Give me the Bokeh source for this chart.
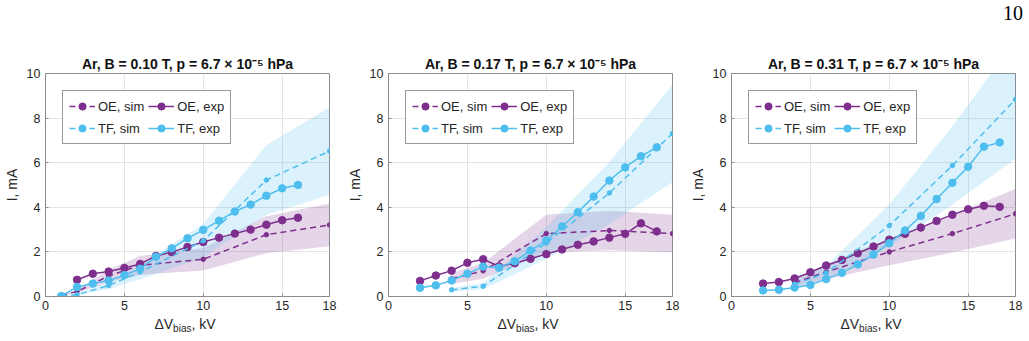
from bokeh.plotting import figure
from bokeh.layouts import row, column
from bokeh.models import Legend, LegendItem, FixedTicker, Range1d, Div
from bokeh.embed import file_html
from bokeh.resources import INLINE

PURPLE = "#7E2F8E"
BLUE = "#4DBEEE"
FONT = "Liberation Sans"
AXIS_GREY = "#8c8c8c"
TEXT_DARK = "#262626"

# ---------------- B = 0.10 T ----------------
b010_oe_exp_v = [2, 3, 4, 5, 6, 7, 8, 9, 10, 11, 12, 13, 14, 15, 16]
b010_oe_exp_i = [0.75, 1.02, 1.12, 1.28, 1.46, 1.82, 1.99, 2.22, 2.44, 2.64, 2.82, 3.00, 3.22, 3.42, 3.53]
b010_tf_exp_v = [1, 2, 3, 4, 5, 6, 7, 8, 9, 10, 11, 12, 13, 14, 15, 16]
b010_tf_exp_i = [0.02, 0.43, 0.58, 0.72, 0.96, 1.24, 1.78, 2.16, 2.61, 2.99, 3.40, 3.81, 4.12, 4.52, 4.85, 5.00]
b010_sim_v = [1, 2, 4, 6, 10, 14, 18]
b010_oe_sim_i = [0.07, 0.22, 0.92, 1.40, 1.67, 2.77, 3.21]
b010_oe_sim_lo = [0.05, 0.15, 0.64, 0.98, 1.17, 1.94, 2.25]
b010_oe_sim_hi = [0.09, 0.29, 1.20, 1.82, 2.17, 3.60, 4.17]
b010_tf_sim_i = [0.02, 0.08, 0.49, 1.10, 2.50, 5.22, 6.52]
b010_tf_sim_lo = [0.01, 0.06, 0.34, 0.77, 1.75, 3.65, 4.56]
b010_tf_sim_hi = [0.03, 0.10, 0.64, 1.43, 3.25, 6.79, 8.48]

# ---------------- B = 0.17 T ----------------
b017_oe_exp_v = [2, 3, 4, 5, 6, 7, 8, 9, 10, 11, 12, 13, 14, 15, 16, 17]
b017_oe_exp_i = [0.70, 0.94, 1.16, 1.51, 1.67, 1.35, 1.49, 1.69, 1.90, 2.11, 2.32, 2.47, 2.64, 2.81, 3.28, 2.92]
b017_tf_exp_v = [2, 3, 4, 5, 6, 7, 8, 9, 10, 11, 12, 13, 14, 15, 16, 17]
b017_tf_exp_i = [0.39, 0.50, 0.72, 1.02, 1.34, 1.29, 1.58, 2.06, 2.51, 3.14, 3.78, 4.48, 5.20, 5.79, 6.29, 6.69]
b017_sim_v = [4, 6, 10, 14, 18]
b017_oe_sim_i = [0.80, 1.15, 2.82, 2.96, 2.82]
b017_oe_sim_lo = [0.56, 0.80, 1.97, 2.07, 1.97]
b017_oe_sim_hi = [1.04, 1.50, 3.67, 3.85, 3.67]
b017_tf_sim_i = [0.30, 0.46, 2.40, 4.64, 7.31]
b017_tf_sim_lo = [0.21, 0.32, 1.68, 3.25, 5.12]
b017_tf_sim_hi = [0.39, 0.60, 3.12, 6.03, 9.50]

# ---------------- B = 0.31 T ----------------
b031_oe_exp_v = [2, 3, 4, 5, 6, 7, 8, 9, 10, 11, 12, 13, 14, 15, 16, 17]
b031_oe_exp_i = [0.58, 0.65, 0.81, 1.09, 1.39, 1.64, 1.94, 2.24, 2.55, 2.81, 3.09, 3.39, 3.67, 3.91, 4.07, 4.02]
b031_tf_exp_v = [2, 3, 4, 5, 6, 7, 8, 9, 10, 11, 12, 13, 14, 15, 16, 17]
b031_tf_exp_i = [0.27, 0.30, 0.40, 0.52, 0.78, 1.06, 1.44, 1.88, 2.39, 2.96, 3.61, 4.37, 5.10, 5.82, 6.72, 6.91]
b031_sim_v = [4, 6, 10, 14, 18]
b031_oe_sim_i = [0.62, 1.10, 2.00, 2.82, 3.71]
b031_oe_sim_lo = [0.43, 0.77, 1.40, 1.97, 2.60]
b031_oe_sim_hi = [0.81, 1.43, 2.60, 3.67, 4.82]
b031_tf_sim_i = [0.55, 1.05, 3.18, 5.87, 8.84]
b031_tf_sim_lo = [0.38, 0.74, 2.23, 4.11, 6.19]
b031_tf_sim_hi = [0.72, 1.37, 4.13, 7.63, 11.49]

titles = [
    "Ar, B = 0.10 T, p = 6.7 \u00d7 10\u207b\u2075 hPa",
    "Ar, B = 0.17 T, p = 6.7 \u00d7 10\u207b\u2075 hPa",
    "Ar, B = 0.31 T, p = 6.7 \u00d7 10\u207b\u2075 hPa",
]
x_ticks = [0, 5, 10, 15, 18]
y_ticks = [0, 2, 4, 6, 8, 10]
page_number = "10"

panels = [
    (titles[0], b010_oe_exp_v, b010_oe_exp_i, b010_tf_exp_v, b010_tf_exp_i, b010_sim_v,
     b010_oe_sim_i, b010_oe_sim_lo, b010_oe_sim_hi, b010_tf_sim_i, b010_tf_sim_lo, b010_tf_sim_hi),
    (titles[1], b017_oe_exp_v, b017_oe_exp_i, b017_tf_exp_v, b017_tf_exp_i, b017_sim_v,
     b017_oe_sim_i, b017_oe_sim_lo, b017_oe_sim_hi, b017_tf_sim_i, b017_tf_sim_lo, b017_tf_sim_hi),
    (titles[2], b031_oe_exp_v, b031_oe_exp_i, b031_tf_exp_v, b031_tf_exp_i, b031_sim_v,
     b031_oe_sim_i, b031_oe_sim_lo, b031_oe_sim_hi, b031_tf_sim_i, b031_tf_sim_lo, b031_tf_sim_hi),
]

PANEL_W = 343
TOP_H = 24      # strip holding the page number
FIG_H = 292     # title + plot frame + tick labels
LABEL_H = 25    # strip holding the x-axis labels


def make_panel(title, oe_v, oe_i, tf_v, tf_i, sim_v,
               oe_s, oe_lo, oe_hi, tf_s, tf_lo, tf_hi):
    p = figure(width=PANEL_W, height=FIG_H, x_range=Range1d(0, 18), y_range=Range1d(0, 10),
               output_backend="svg", toolbar_location=None,
               min_border_left=41, min_border_right=14,
               min_border_top=49, min_border_bottom=20)
    p.background_fill_color = "white"
    p.border_fill_color = "white"
    p.outline_line_color = AXIS_GREY
    p.outline_line_width = 1

    p.title.text = title
    p.title.align = "center"
    p.title.text_font = FONT
    p.title.text_font_size = "14px"
    p.title.text_font_style = "bold"
    p.title.text_color = "#111111"
    p.title.standoff = 4

    p.xaxis.ticker = FixedTicker(ticks=x_ticks)
    p.yaxis.ticker = FixedTicker(ticks=y_ticks)
    for ax in (p.xaxis[0], p.yaxis[0]):
        ax.axis_line_color = AXIS_GREY
        ax.major_tick_line_color = AXIS_GREY
        ax.major_tick_in = 3
        ax.major_tick_out = 0
        ax.minor_tick_line_color = None
        ax.major_label_text_font = FONT
        ax.major_label_text_font_size = "12.5px"
        ax.major_label_text_color = TEXT_DARK
    p.xaxis.major_label_standoff = 4
    p.yaxis.major_label_standoff = 5
    p.yaxis.axis_label = "I, mA"
    p.yaxis.axis_label_text_font = FONT
    p.yaxis.axis_label_text_font_size = "14px"
    p.yaxis.axis_label_text_font_style = "normal"
    p.yaxis.axis_label_text_color = TEXT_DARK
    p.yaxis.axis_label_standoff = 4

    p.xgrid.grid_line_color = "#e4e4e4"
    p.ygrid.grid_line_color = "#e4e4e4"

    # shaded uncertainty bands around the simulated currents
    p.varea(x=sim_v, y1=oe_lo, y2=oe_hi, fill_color=PURPLE, fill_alpha=0.2)
    p.varea(x=sim_v, y1=tf_lo, y2=tf_hi, fill_color=BLUE, fill_alpha=0.2)

    oe_sim_l = p.line(sim_v, oe_s, line_color=PURPLE, line_width=1.5, line_dash="6 4")
    oe_sim_m = p.scatter(sim_v, oe_s, marker="circle", size=4.5, fill_color=PURPLE, line_color=PURPLE)
    oe_exp_l = p.line(oe_v, oe_i, line_color=PURPLE, line_width=1.5)
    oe_exp_m = p.scatter(oe_v, oe_i, marker="circle", size=7.5, fill_color=PURPLE, line_color=PURPLE)
    tf_sim_l = p.line(sim_v, tf_s, line_color=BLUE, line_width=1.5, line_dash="6 4")
    tf_sim_m = p.scatter(sim_v, tf_s, marker="circle", size=4.5, fill_color=BLUE, line_color=BLUE)
    tf_exp_l = p.line(tf_v, tf_i, line_color=BLUE, line_width=1.5)
    tf_exp_m = p.scatter(tf_v, tf_i, marker="circle", size=7.5, fill_color=BLUE, line_color=BLUE)

    # two columns, filled column by column: sims on the left, experiments on the right
    legend = Legend(items=[
        LegendItem(label="OE, sim", renderers=[oe_sim_l, oe_sim_m]),
        LegendItem(label="TF, sim", renderers=[tf_sim_l, tf_sim_m]),
        LegendItem(label="OE, exp", renderers=[oe_exp_l, oe_exp_m]),
        LegendItem(label="TF, exp", renderers=[tf_exp_l, tf_exp_m]),
    ], location=(17, 152), ncols=2)
    legend.margin = 0
    legend.padding = 6
    legend.spacing = 4
    legend.label_standoff = 3
    legend.glyph_width = 26
    legend.glyph_height = 18
    legend.label_height = 18
    legend.label_text_font = FONT
    legend.label_text_font_size = "13px"
    legend.label_text_color = TEXT_DARK
    legend.border_line_color = "#333333"
    legend.border_line_width = 1
    legend.background_fill_color = "white"
    legend.background_fill_alpha = 1
    p.add_layout(legend)
    return p


def x_label_div():
    html = ('<div style="width:288px;margin-left:41px;margin-top:0px;text-align:center;'
            'font-family:\'Liberation Sans\';font-size:14px;font-weight:normal;line-height:16px;color:%s;">'
            '\u0394V<sub style="font-size:10px;font-weight:normal;line-height:0;vertical-align:-3px;">bias</sub>, kV</div>'
            % TEXT_DARK)
    return Div(text=html, width=PANEL_W, height=LABEL_H, margin=(0, 0, 0, 0))


page_div = Div(text=('<div style="width:1023px;text-align:right;font-family:\'Liberation Serif\';'
                     'font-size:20px;line-height:20px;margin-top:3px;color:#000;">%s</div>' % page_number),
               width=3 * PANEL_W, height=TOP_H, margin=(0, 0, 0, 0))

figs = [make_panel(*args) for args in panels]
labels = [x_label_div() for _ in panels]

layout = column(page_div, row(*figs, spacing=0), row(*labels, spacing=0), spacing=0)
open("out.html", "w").write(file_html(layout, INLINE))
